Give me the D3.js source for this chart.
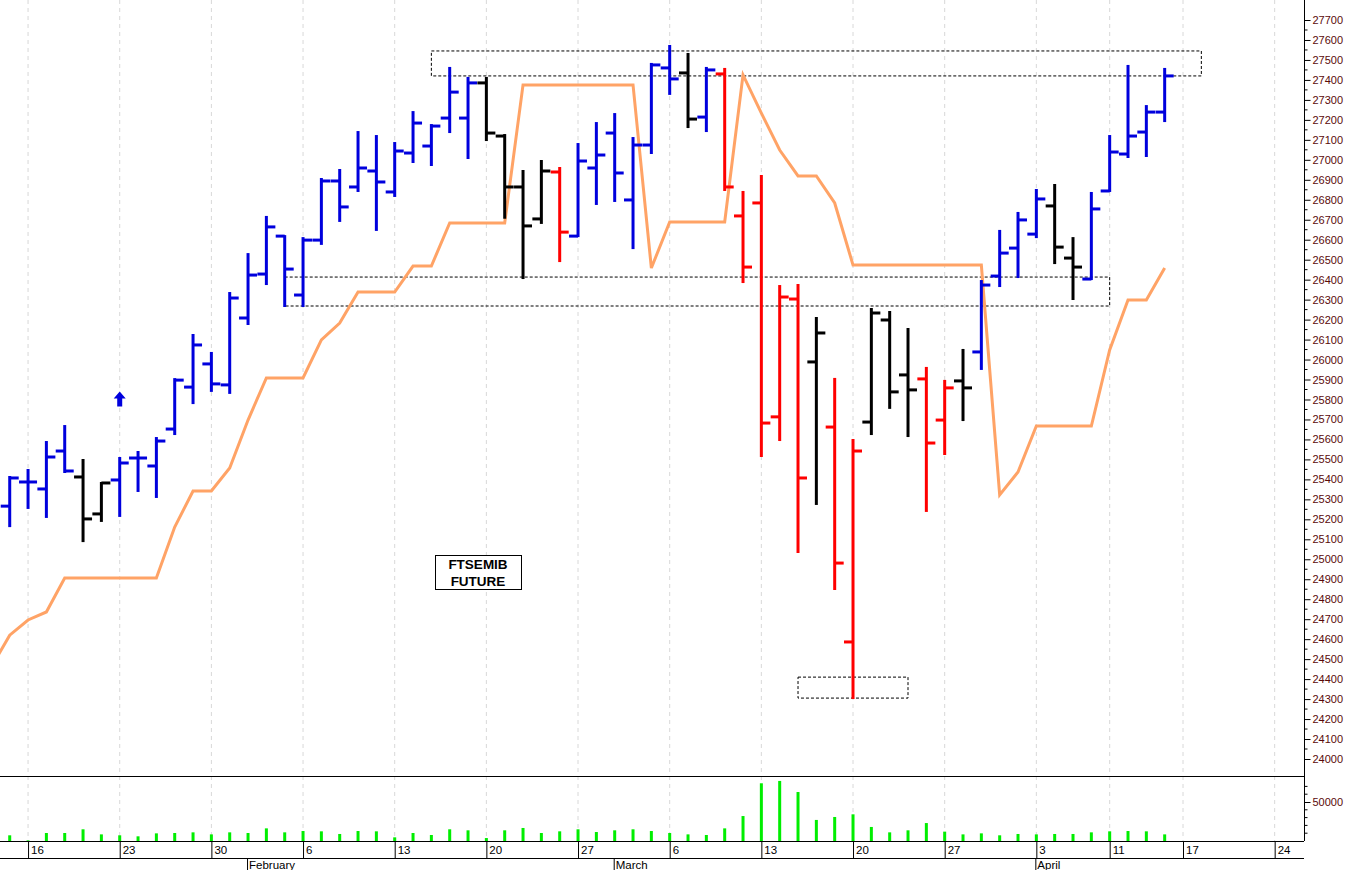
<!DOCTYPE html>
<html><head><meta charset="utf-8">
<script src="https://cdn.jsdelivr.net/npm/d3@7"></script>
<style>body{margin:0;background:#fff}svg{display:block}</style>
</head><body>
<script>
// trading-day index (0 = Mon 16 Jan 2023)
const barIdx = d3.range(-1, 63);
const opens  = [25266,25387,25352,25542,25412,25227,25397,25507,25467,25652,25862,25978,25873,26208,26428,26618,26323,26598,26894,26864,26944,26839,27034,27069,27209,27209,27385,27119,26864,26704,26939,26618,26959,27134,26799,27074,27460,27435,27214,27430,26719,26784,25713,26303,25988,25662,24586,25687,26198,25923,25903,25697,25893,26038,26418,26558,26628,26769,26508,26403,26844,27029,27139,27239];
const highs  = [25412,25447,25587,25667,25497,25382,25507,25537,25607,25902,26123,26033,26333,26528,26714,26618,26608,26904,26949,27139,27119,27084,27239,27174,27460,27410,27410,27124,26944,26994,26959,27079,27184,27229,27109,27480,27570,27530,27460,27455,26839,26919,26368,26373,26208,25903,25597,26253,26238,26153,25958,25893,26048,26393,26644,26734,26849,26874,26608,26834,27119,27470,27269,27455];
const lows   = [25166,25257,25212,25437,25091,25192,25217,25342,25312,25627,25782,25843,25833,26178,26378,26268,26268,26579,26694,26844,26649,26819,26989,26974,27139,27009,27099,26710,26408,26684,26493,26618,26779,26794,26558,27034,27330,27164,27144,26849,26388,25517,25597,25036,25277,24851,24305,25627,25758,25617,25242,25527,25697,25953,26368,26413,26613,26483,26303,26403,26844,27014,27019,27194];
const closes = [25407,25387,25512,25442,25202,25382,25482,25507,25592,25897,26073,25878,26308,26423,26664,26453,26598,26894,26764,26959,26889,27044,27184,27169,27339,27385,27134,26864,26669,26944,26638,26994,27024,26934,27074,27475,27405,27204,27450,26864,26463,25682,26313,25407,26133,24981,25542,26233,25838,25848,25582,25858,25858,26373,26533,26699,26804,26563,26463,26754,27039,27119,27239,27420];
const signal = "bbbbkkbbbbbbbbbbbbbbbbbbbbkkkkrbbbbbbkbrrrrrkrrkkkrrkbbbbkkbbbbb".split("");
const volumes = [7300,800,10250,10250,15000,8500,7300,6000,9800,10250,11100,8500,11100,10250,16200,11100,12800,12400,9000,12800,12400,4700,10250,7700,15000,13700,3800,13700,16700,10250,12400,15000,11500,13700,15000,12800,10250,8500,7700,16200,32000,74000,77000,62800,27000,30800,34200,18000,11100,13700,23000,12000,8500,9800,7300,9000,8500,9000,9000,11100,12400,12800,12400,8500];
const stopIdx = d3.range(-2, 63);
const stopVals = [24460,24620,24696,24736,24906,24906,24906,24906,24906,24906,25161,25342,25342,25457,25697,25908,25908,25908,26098,26183,26338,26338,26338,26468,26468,26684,26684,26684,26684,27375,27375,27375,27375,27375,27375,27375,26458,26689,26689,26689,26689,27425,27234,27049,26919,26919,26784,26473,26473,26473,26473,26473,26473,26473,26473,25322,25437,25667,25667,25667,25667,26048,26298,26298,26458];
const tickIdx = [0,5,10,15,20,25,30,35,40,45,50,55,59,63,68];
const tickLabels = ["16","23","30","6","13","20","27","6","13","20","27","3","11","17","24"];
const monthIdx = [12,32,55];
const monthLabels = ["February","March","April"];
// dashed zones: [fromIdx, toIdx, low, high]
const zones = [[22,64,27420,27545],[14,59,26268,26413],[42,48,24305,24410]];
const priceTicks = d3.range(24000, 27701, 100);

const W=1352,H=870,axisX=1304;
const svg=d3.select("body").append("svg").attr("width",W).attr("height",H)
  .style("font-family","'Liberation Sans',Arial,sans-serif");
const x=d3.scaleLinear().domain([-1.53,69.6]).range([0,axisX]);
const y=d3.scaleLinear().domain([24000,27700]).range([759,20]);
const yv=d3.scaleLinear().domain([0,50000]).range([841,802]);
const col={b:"#0000dd",r:"#ff0000",k:"#000000"};

const clip=svg.append("defs").append("clipPath").attr("id","c").append("rect").attr("x",0).attr("y",0).attr("width",axisX).attr("height",776);
// grid
svg.append("g").selectAll("line").data(tickIdx).join("line")
  .attr("x1",d=>x(d)).attr("x2",d=>x(d)).attr("y1",0).attr("y2",841)
  .attr("stroke","#d8d8d8").attr("stroke-dasharray","4,4");
// zones
svg.append("g").selectAll("rect").data(zones).join("rect")
  .attr("x",d=>x(d[0])).attr("width",d=>x(d[1])-x(d[0]))
  .attr("y",d=>y(d[3])).attr("height",d=>y(d[2])-y(d[3]))
  .attr("fill","none").attr("stroke","#000").attr("stroke-width",1).attr("stroke-dasharray","3,2");
// stop line
svg.append("path").attr("clip-path","url(#c)")
  .datum(stopIdx.map((d,i)=>[d,stopVals[i]]))
  .attr("d",d3.line().x(d=>x(d[0])).y(d=>y(d[1])))
  .attr("fill","none").attr("stroke","#ffa366").attr("stroke-width",3);
// OHLC bars
const bars=svg.append("g").attr("clip-path","url(#c)").selectAll("g").data(barIdx).join("g")
  .attr("stroke",(d,i)=>col[signal[i]]).attr("stroke-width",3);
bars.append("line").attr("x1",d=>x(d)).attr("x2",d=>x(d)).attr("y1",(d,i)=>y(highs[i])-1).attr("y2",(d,i)=>y(lows[i])+1);
bars.append("line").attr("x1",d=>x(d)-9).attr("x2",d=>x(d)).attr("y1",(d,i)=>y(opens[i])).attr("y2",(d,i)=>y(opens[i]));
bars.append("line").attr("x1",d=>x(d)).attr("x2",d=>x(d)+9).attr("y1",(d,i)=>y(closes[i])).attr("y2",(d,i)=>y(closes[i]));
// arrow
const ax=x(5), ay=y(25800);
svg.append("path").attr("d",`M${ax},${ay-8} L${ax+6},${ay-1} L${ax+2.5},${ay-1} L${ax+2.5},${ay+7} L${ax-2.5},${ay+7} L${ax-2.5},${ay-1} L${ax-6},${ay-1} Z`).attr("fill","#0000dd");
// label box
const lb=svg.append("g");
lb.append("rect").attr("x",435.5).attr("y",555.5).attr("width",86).attr("height",34).attr("fill","#fff").attr("stroke","#000");
lb.append("text").attr("x",478).attr("y",569).attr("text-anchor","middle").attr("font-weight","bold").attr("font-size",13.5).text("FTSEMIB");
lb.append("text").attr("x",478).attr("y",586).attr("text-anchor","middle").attr("font-weight","bold").attr("font-size",13.5).text("FUTURE");
// volume
svg.append("g").selectAll("rect").data(barIdx).join("rect")
  .attr("x",d=>x(d)-1.5).attr("width",3).attr("y",(d,i)=>yv(volumes[i])).attr("height",(d,i)=>yv(0)-yv(volumes[i]))
  .attr("fill","#00ee00");
// frame lines
const fl=svg.append("g").attr("stroke","#000");
fl.append("line").attr("x1",0).attr("x2",axisX).attr("y1",776.5).attr("y2",776.5);
fl.append("line").attr("x1",0).attr("x2",axisX).attr("y1",841.5).attr("y2",841.5);
fl.append("line").attr("x1",0).attr("x2",axisX).attr("y1",858.5).attr("y2",858.5);
fl.append("line").attr("x1",axisX+0.5).attr("x2",axisX+0.5).attr("y1",0).attr("y2",841);
// y axis
const ya=svg.append("g").attr("transform",`translate(${axisX+0.5},0)`);
ya.call(d3.axisRight(y).tickValues(priceTicks).tickSize(6).tickFormat(d3.format("d")));
ya.call(g=>{g.select(".domain").remove();g.selectAll("text").attr("font-size",11).attr("fill","#5a0a0a").attr("x",8).style("font-family","'Liberation Sans',Arial");});
ya.append("g").selectAll("line").data(d3.range(24050,27700,100)).join("line")
  .attr("x1",0).attr("x2",3).attr("y1",d=>y(d)).attr("y2",d=>y(d)).attr("stroke","#000");
const va=svg.append("g").attr("transform",`translate(${axisX+0.5},0)`);
va.call(d3.axisRight(yv).tickValues([50000]).tickSize(6).tickFormat(d3.format("d")));
va.call(g=>{g.select(".domain").remove();g.selectAll("text").attr("font-size",11).attr("fill","#5a0a0a").attr("x",8).style("font-family","'Liberation Sans',Arial");});
va.append("g").selectAll("line").data([10000,20000,30000,40000,60000,70000]).join("line")
  .attr("x1",0).attr("x2",3).attr("y1",d=>yv(d)).attr("y2",d=>yv(d)).attr("stroke","#000");
// x axis
const xa=svg.append("g");
xa.selectAll("line").data(tickIdx).join("line").attr("x1",d=>x(d)+0.5).attr("x2",d=>x(d)+0.5).attr("y1",841).attr("y2",858).attr("stroke","#000");
xa.selectAll("text").data(tickIdx).join("text").attr("x",d=>x(d)+3).attr("y",854).attr("font-size",11.5).text((d,i)=>tickLabels[i]);
const ma=svg.append("g");
ma.selectAll("line").data(monthIdx).join("line").attr("x1",d=>x(d)-0.5).attr("x2",d=>x(d)-0.5).attr("y1",858).attr("y2",870).attr("stroke","#000");
ma.selectAll("text").data(monthIdx).join("text").attr("x",d=>x(d)+1).attr("y",869).attr("font-size",11.5).text((d,i)=>monthLabels[i]);
</script>
</body></html>
